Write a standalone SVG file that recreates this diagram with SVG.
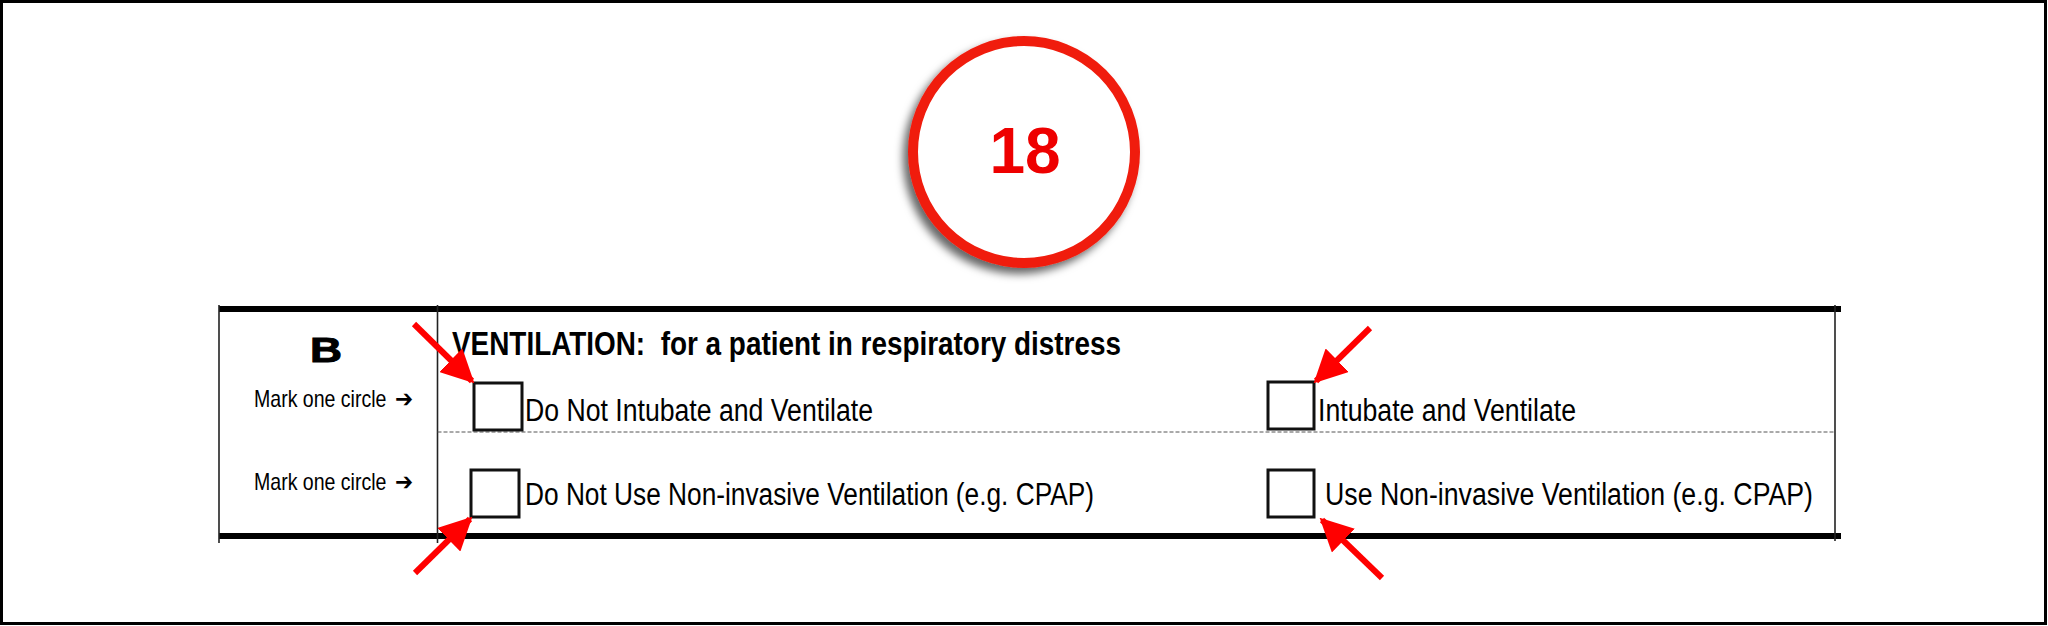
<svg xmlns="http://www.w3.org/2000/svg" width="2048" height="626" viewBox="0 0 2048 626">
<style>
.thick{stroke:#000;stroke-width:6;fill:none}
.thin{stroke:#222;stroke-width:1.6;fill:none}
.dash{stroke:#555;stroke-width:1;stroke-dasharray:4 2;fill:none}
.box{fill:#fff;stroke:#111;stroke-width:3}
.opt{font-family:"Liberation Sans",Arial,sans-serif;font-size:31px;fill:#000}
.mark{font-family:"Liberation Sans",Arial,sans-serif;font-size:23px;fill:#000}
.arr{font-family:"DejaVu Sans",sans-serif;font-size:24px;font-weight:bold;fill:#000}
.red{stroke:#ff0000;stroke-width:6;fill:none;stroke-linecap:butt}
</style>
<defs>
<filter id="sh" x="-30%" y="-30%" width="160%" height="160%">
<feDropShadow dx="-5" dy="6" stdDeviation="4" flood-color="#000" flood-opacity="0.6"/>
</filter>
<marker id="ah" viewBox="0 0 10 10" refX="9" refY="5" markerWidth="5.5" markerHeight="5.5" orient="auto" markerUnits="strokeWidth">
<path d="M0,0 L10,5 L0,10 Z" fill="#ff0000"/>
</marker>
</defs>
<rect x="0" y="0" width="2048" height="626" fill="#fff"/>
<rect x="1.5" y="1.5" width="2044" height="622" fill="none" stroke="#000" stroke-width="3"/>

<g id="badge">
<circle cx="1024" cy="152" r="111" fill="#fff" stroke="#f01c0c" stroke-width="10" filter="url(#sh)"/>
<text x="1025" y="173" text-anchor="middle" font-family="'Liberation Sans',Arial,sans-serif" font-weight="bold" font-size="64" fill="#ee0000" stroke="#fff" stroke-width="6" paint-order="stroke" stroke-linejoin="round">18</text>
</g>

<g id="table">
<line class="thick" x1="219" y1="309" x2="1841" y2="309"/>
<line class="thick" x1="219" y1="536" x2="1841" y2="536"/>
<line class="thin" x1="219" y1="305" x2="219" y2="543"/>
<line class="thin" x1="437.5" y1="305" x2="437.5" y2="543"/>
<line class="thin" x1="1835" y1="305" x2="1835" y2="541"/>
<line class="dash" x1="437.5" y1="432" x2="1835" y2="432"/>
</g>

<g id="section-label">
<text x="310" y="362" font-family="'Liberation Sans',Arial,sans-serif" font-weight="900" font-size="35" textLength="32" lengthAdjust="spacingAndGlyphs" stroke="#000" stroke-width="1">B</text>
<text class="mark" transform="translate(254 407) scale(0.85 1)">Mark one circle</text>
<text class="arr" transform="translate(395 407) scale(0.9 1)">➔</text>
<text class="mark" transform="translate(254 490) scale(0.85 1)">Mark one circle</text>
<text class="arr" transform="translate(395 490) scale(0.9 1)">➔</text>
</g>

<g id="title">
<text x="452" y="355" font-family="'Liberation Sans',Arial,sans-serif" font-weight="bold" font-size="34" textLength="669" lengthAdjust="spacingAndGlyphs" xml:space="preserve">VENTILATION:  for a patient in respiratory distress</text>
</g>

<g id="opt-dni">
<rect class="box" x="474" y="383" width="48" height="47"/>
<text class="opt" x="525" y="421" textLength="348" lengthAdjust="spacingAndGlyphs">Do Not Intubate and Ventilate</text>
</g>
<g id="opt-iv">
<rect class="box" x="1268" y="382" width="46" height="47"/>
<text class="opt" x="1318" y="421" textLength="258" lengthAdjust="spacingAndGlyphs">Intubate and Ventilate</text>
</g>
<g id="opt-dnniv">
<rect class="box" x="471" y="470" width="48" height="47"/>
<text class="opt" x="525" y="505" textLength="569" lengthAdjust="spacingAndGlyphs">Do Not Use Non-invasive Ventilation (e.g. CPAP)</text>
</g>
<g id="opt-niv">
<rect class="box" x="1268" y="470" width="46" height="47"/>
<text class="opt" x="1325" y="505" textLength="488" lengthAdjust="spacingAndGlyphs">Use Non-invasive Ventilation (e.g. CPAP)</text>
</g>

<g id="connectors">
<line class="red" x1="414" y1="324" x2="472" y2="381" marker-end="url(#ah)"/>
<line class="red" x1="1370" y1="328" x2="1316" y2="381" marker-end="url(#ah)"/>
<line class="red" x1="415" y1="573" x2="470" y2="519" marker-end="url(#ah)"/>
<line class="red" x1="1382" y1="578" x2="1322" y2="520" marker-end="url(#ah)"/>
</g>
</svg>
